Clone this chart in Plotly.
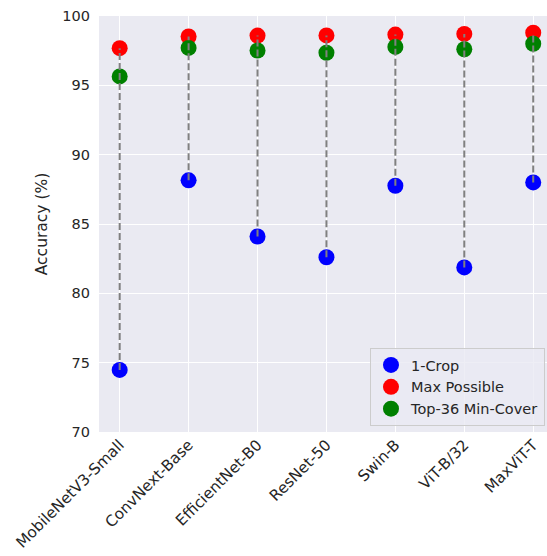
import plotly.graph_objects as go

# Per-model accuracy (%) on the evaluation set
models = ["MobileNetV3-Small", "ConvNext-Base", "EfficientNet-B0", "ResNet-50",
          "Swin-B", "ViT-B/32", "MaxViT-T"]
one_crop = [74.48, 88.15, 84.10, 82.60, 87.76, 81.87, 88.00]
max_possible = [97.68, 98.52, 98.59, 98.60, 98.66, 98.71, 98.80]
top36_min_cover = [95.64, 97.70, 97.51, 97.35, 97.77, 97.60, 98.00]

text_color = "#262626"
font_family = "DejaVu Sans"

fig = go.Figure()

series = [
    ("1-Crop", one_crop, "#0000FF"),
    ("Max Possible", max_possible, "#FF0000"),
    ("Top-36 Min-Cover", top36_min_cover, "#008000"),
]
for name, vals, color in series:
    fig.add_trace(go.Scatter(
        x=models, y=vals, mode="markers", name=name,
        marker=dict(size=16, color=color, line=dict(width=0)),
    ))

# Dashed connectors from the single-crop score up to the best achievable score
seg_x, seg_y = [], []
for m, lo, hi in zip(models, one_crop, max_possible):
    seg_x += [m, m, None]
    seg_y += [lo, hi, None]
fig.add_trace(go.Scatter(
    x=seg_x, y=seg_y, mode="lines", showlegend=False, hoverinfo="skip",
    line=dict(color="#808080", width=2, dash="7px,3px"),
))

fig.update_layout(
    width=547, height=556,
    margin=dict(l=99, r=0, t=16, b=124),
    paper_bgcolor="white",
    plot_bgcolor="#EAEAF2",
    font=dict(family=font_family, size=14, color=text_color),
    legend=dict(
        x=0.9955, y=0.0144, xanchor="right", yanchor="bottom",
        bgcolor="rgba(234,234,242,0.8)", bordercolor="#CCCCCC", borderwidth=1,
        font=dict(size=14.5, color=text_color),
        tracegroupgap=0,
    ),
    xaxis=dict(
        range=[-0.3, 6.2], showgrid=True, gridcolor="white", gridwidth=1.3,
        tickangle=-45, showline=False, zeroline=False, ticks="",
        tickfont=dict(size=15.3, color=text_color),
    ),
    yaxis=dict(
        range=[70, 100], tickvals=[70, 75, 80, 85, 90, 95, 100],
        showgrid=True, gridcolor="white", gridwidth=1.3,
        showline=False, zeroline=False, ticks="", ticklabelstandoff=8,
        tickfont=dict(size=14.5, color=text_color),
        title=dict(text="Accuracy (%)", font=dict(size=15.5, color=text_color), standoff=10),
    ),
)

fig.write_html("out.html")
